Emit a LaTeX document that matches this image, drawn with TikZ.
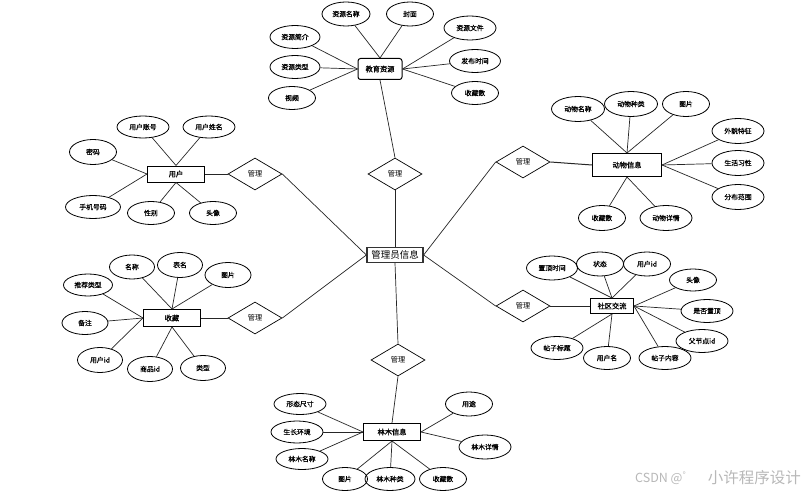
\documentclass[tikz,border=0pt]{standalone}
\usepackage{fontspec}
\setmainfont{Noto Sans CJK SC}
\newfontfamily\cjkdark{Noto Sans CJK SC}[FakeBold=0.8]
\usetikzlibrary{shapes.geometric}
\begin{document}
\begin{tikzpicture}[x=1pt,y=-1pt,
  conn/.style={draw=black!85,line width=0.7pt},
  relconn/.style={draw=black!85,line width=1pt},
  attr/.style={ellipse,draw=black,line width=0.8pt,minimum width=47pt,minimum height=23pt,inner sep=0pt,font=\cjkdark\fontsize{6.8}{7}\selectfont},
  attrw/.style={attr,minimum width=52pt},
  ent/.style={rectangle,draw=black,line width=1pt,inner sep=0pt,font=\cjkdark\fontsize{7.2}{8}\selectfont},
  rel/.style={diamond,draw=black,line width=0.7pt,minimum width=54pt,minimum height=32pt,inner sep=0pt,font=\fontsize{7.2}{8}\selectfont},
]
\useasboundingbox[fill=white] (0,0) rectangle (811,500);

% central
\node[rectangle,draw=black!80,line width=1.3pt,inner sep=0pt,minimum width=56pt,minimum height=15pt,font=\fontsize{9.5}{10}\selectfont] (admin) at (395,255) {管理员信息};

% relations
\node[rel] (d1) at (395,174) {管理};
\node[rel] (d2) at (255,174) {管理};
\node[rel] (d3) at (523,162) {管理};
\node[rel] (d4) at (255,318) {管理};
\node[rel] (d5) at (523,306) {管理};
\node[rel] (d6) at (398,360) {管理};

% entities
\node[ent,rounded corners=2.5pt,minimum width=44pt,minimum height=21pt] (edu) at (380,69) {教育资源};
\node[ent,minimum width=57pt,minimum height=16pt] (user) at (176,174) {用户};
\node[ent,minimum width=69pt,minimum height=23pt] (animal) at (627,165) {动物信息};
\node[ent,minimum width=57pt,minimum height=17pt] (fav) at (172,318) {收藏};
\node[ent,minimum width=43pt,minimum height=15pt] (comm) at (612,306) {社区交流};
\node[ent,minimum width=57pt,minimum height=17pt] (forest) at (392,432) {林木信息};

% relation connectors
\draw[conn] (d1.south) -- (admin.north);
\draw[conn] (d1.north) -- (edu.south);
\draw[conn] (d2.east) -- (admin.west);
\draw[relconn] (d2.west) -- (user.east);
\draw[conn] (d4.east) -- (admin.west);
\draw[relconn] (d4.west) -- (fav.east);
\draw[conn] (d3.west) -- (admin.east);
\draw[relconn] (d3.east) -- (animal.west);
\draw[conn] (d5.west) -- (admin.east);
\draw[relconn] (d5.east) -- (comm.west);
\draw[conn] (d6.north) -- (admin.south);
\draw[conn] (d6.south) -- (forest.north);

% 教育资源 attributes
\node[attr,minimum width=48pt,minimum height=24pt] (e1) at (346,14) {资源名称};
\node[attr,minimum height=24pt] (e2) at (410,14) {封面};
\node[attrw,minimum height=24pt] (e3) at (470,28) {资源文件};
\node[attrw,minimum width=51pt] (e4) at (475,61) {发布时间};
\node[attr] (e5) at (475,93) {收藏数};
\node[attr,minimum width=50pt] (e6) at (295,37) {资源简介};
\node[attr,minimum width=50pt] (e7) at (295,67) {资源类型};
\node[attr] (e8) at (292,98) {视频};
\foreach \a in {e1,e2} \draw[conn] (\a) -- (edu.north);
\foreach \a in {e3,e4,e5} \draw[conn] (\a) -- (edu.east);
\foreach \a in {e6,e7,e8} \draw[conn] (\a) -- (edu.west);

% 用户 attributes
\node[attrw,minimum height=22pt] (u1) at (143,127) {用户账号};
\node[attrw,minimum height=22pt] (u2) at (209,127) {用户姓名};
\node[attr,minimum height=25pt] (u3) at (93,152) {密码};
\node[attrw,minimum width=55pt] (u4) at (93,207) {手机号码};
\node[attr] (u5) at (151,213) {性别};
\node[attr] (u6) at (213,213) {头像};
\foreach \a in {u1,u2} \draw[conn] (\a) -- (user.north);
\foreach \a in {u3,u4} \draw[conn] (\a) -- (user.west);
\foreach \a in {u5,u6} \draw[conn] (\a) -- (user.south);

% 动物信息 attributes
\node[attrw,minimum width=53pt,minimum height=25pt] (a1) at (578,109) {动物名称};
\node[attrw,minimum width=53pt,minimum height=25pt] (a2) at (631,104) {动物种类};
\node[attr,minimum height=25pt] (a3) at (686,104) {图片};
\node[attrw,minimum height=25pt] (a4) at (738,131) {外貌特征};
\node[attrw,minimum height=25pt] (a5) at (738,163) {生活习性};
\node[attrw,minimum height=25pt] (a6) at (738,197) {分布范围};
\node[attr,minimum height=25pt] (a7) at (602,218) {收藏数};
\node[attrw,minimum height=25pt] (a8) at (666,218) {动物详情};
\foreach \a in {a1,a2,a3} \draw[conn] (\a) -- (animal.north);
\foreach \a in {a4,a5,a6} \draw[conn] (\a) -- (animal.east);
\foreach \a in {a7,a8} \draw[conn] (\a) -- (animal.south);

% 收藏 attributes
\node[attr,minimum width=45pt,minimum height=24pt] (f1) at (132,267) {名称};
\node[attr,minimum width=45pt,minimum height=25pt] (f2) at (180,265) {表名};
\node[attr,minimum width=46pt,minimum height=25pt] (f3) at (228,275) {图片};
\node[attr,minimum width=49pt,minimum height=22pt] (f4) at (88,285) {推荐类型};
\node[attr,minimum width=46pt] (f5) at (85,323) {备注};
\node[attr,minimum width=45pt,minimum height=25pt] (f6) at (100,360) {用户id};
\node[attr,minimum width=45pt,minimum height=25pt] (f7) at (150,369) {商品id};
\node[attr,minimum width=45pt,minimum height=25pt] (f8) at (203,368) {类型};
\foreach \a in {f1,f2,f3} \draw[conn] (\a) -- (fav.north);
\foreach \a in {f4,f5,f6} \draw[conn] (\a) -- (fav.west);
\foreach \a in {f7,f8} \draw[conn] (\a) -- (fav.south);

% 社区交流 attributes
\node[attrw,minimum width=51pt,minimum height=24pt] (c1) at (552,268) {置顶时间};
\node[attr,minimum height=24pt] (c2) at (600,264) {状态};
\node[attr,minimum height=24pt] (c3) at (647,264) {用户id};
\node[attr,minimum height=22pt] (c4) at (693,280) {头像};
\node[attrw] (c5) at (707,311) {是否置顶};
\node[attrw] (c6) at (702,341) {父节点id};
\node[attrw] (c7) at (557,348) {帖子标题};
\node[attr] (c8) at (607,358) {用户名};
\node[attrw] (c9) at (665,358) {帖子内容};
\foreach \a in {c1,c2,c3} \draw[conn] (\a) -- (comm.north);
\foreach \a in {c4,c5,c6,c9} \draw[conn] (\a) -- (comm.east);
\foreach \a in {c7,c8} \draw[conn] (\a) -- (comm.south);

% 林木信息 attributes
\node[attrw,minimum height=21pt] (t1) at (300,404) {形态尺寸};
\node[attrw,minimum height=22pt] (t2) at (297,432) {生长环境};
\node[attrw,minimum height=21pt] (t3) at (302,459) {林木名称};
\node[attr,minimum width=45pt] (t4) at (345,479) {图片};
\node[attrw,minimum width=50pt] (t5) at (390,479) {林木种类};
\node[attr] (t6) at (443,479) {收藏数};
\node[attr,minimum height=24pt] (t7) at (469,404) {用途};
\node[attrw,minimum height=24pt] (t8) at (485,447) {林木详情};
\foreach \a in {t1,t2,t3} \draw[conn] (\a) -- (forest.west);
\foreach \a in {t4,t5,t6} \draw[conn] (\a) -- (forest.south);
\foreach \a in {t7,t8} \draw[conn] (\a) -- (forest.east);

% watermark
\node[text=black!28,font=\fontsize{12.5}{13}\selectfont,inner sep=0pt,anchor=west] (wm1) at (635,478) {CSDN @\textsuperscript{°}};
\node[text=black!28,font=\fontsize{15.5}{16}\selectfont,inner sep=0pt,anchor=east] (wm2) at (801,478) {小许程序设计};
\end{tikzpicture}
\end{document}
